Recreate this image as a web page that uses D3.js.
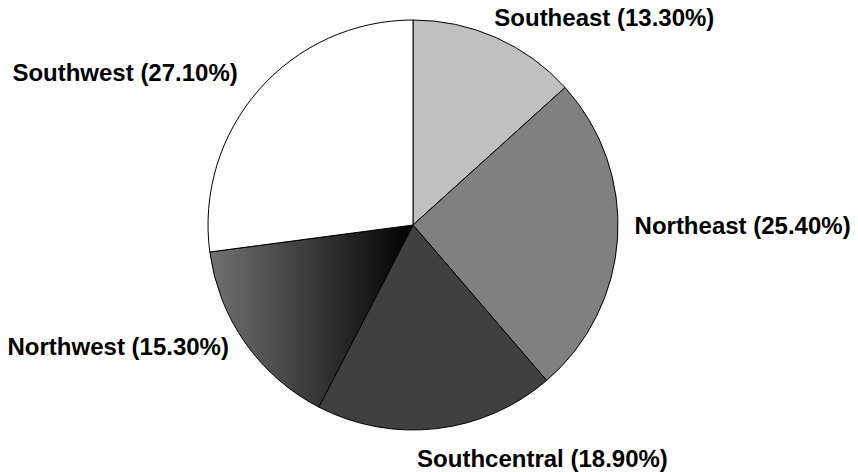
<!DOCTYPE html>
<html>
<head>
<meta charset="utf-8">
<script src="https://cdn.jsdelivr.net/npm/d3@7"></script>
<style>
  body { margin: 0; background: #fff; }
  text { font-family: "Liberation Sans", Arial, sans-serif; font-weight: bold; font-size: 24px; }
</style>
</head>
<body>
<div class="chart"></div>
<script>
var regions = ["Southeast", "Northeast", "Southcentral", "Northwest", "Southwest"];
var shares = [13.3, 25.4, 18.9, 15.3, 27.1];
var fills = ["#c0c0c0", "#808080", "#404040", "url(#nwGrad)", "#ffffff"];

var width = 858, height = 472;
var cx = 413, cy = 225, radius = 205;

var svg = d3.select('.chart')
    .append('svg')
    .attr('width', width)
    .attr('height', height);

// degradado del sector noroeste
var grad = svg.append('defs').append('linearGradient')
    .attr('id', 'nwGrad')
    .attr('x1', 0).attr('y1', 0)
    .attr('x2', 1).attr('y2', 0);
grad.append('stop').attr('offset', '0%').attr('stop-color', '#727272');
grad.append('stop').attr('offset', '100%').attr('stop-color', '#000000');

var input = regions.map(function(r, i) {
    return { name: r, value: shares[i], fill: fills[i] };
});

var pie = d3.pie()
    .sort(null)
    .value(d => d.value);

var arc = d3.arc()
    .innerRadius(0)
    .outerRadius(radius);

var g = svg.append('g')
    .attr("transform", "translate(" + cx + "," + cy + ")");

var arcs = pie(input);

g.selectAll('path')
    .data(arcs)
    .enter()
    .append('path')
    .attr('d', arc)
    .attr('fill', d => d.data.fill)
    .attr('stroke', '#000')
    .attr('stroke-width', 1);

// etiquetas fuera del circulo
var labelR = radius + 20;
var nudge = {
    "Southeast": [-10, -2],
    "Northeast": [-3, -14],
    "Southcentral": [-22, 10],
    "Northwest": [0, -8],
    "Southwest": [-6, -4]
};

g.selectAll('text')
    .data(arcs)
    .enter()
    .append('text')
    .text(d => d.data.name + " (" + d.data.value.toFixed(2) + "%)")
    .attr('x', function(d) {
        var a = (d.startAngle + d.endAngle) / 2;
        return Math.sin(a) * labelR + nudge[d.data.name][0];
    })
    .attr('y', function(d) {
        var a = (d.startAngle + d.endAngle) / 2;
        return -Math.cos(a) * labelR + nudge[d.data.name][1];
    })
    .attr('dy', '0.35em')
    .attr('text-anchor', function(d) {
        var a = (d.startAngle + d.endAngle) / 2;
        return a < Math.PI ? 'start' : 'end';
    });
</script>
</body>
</html>
